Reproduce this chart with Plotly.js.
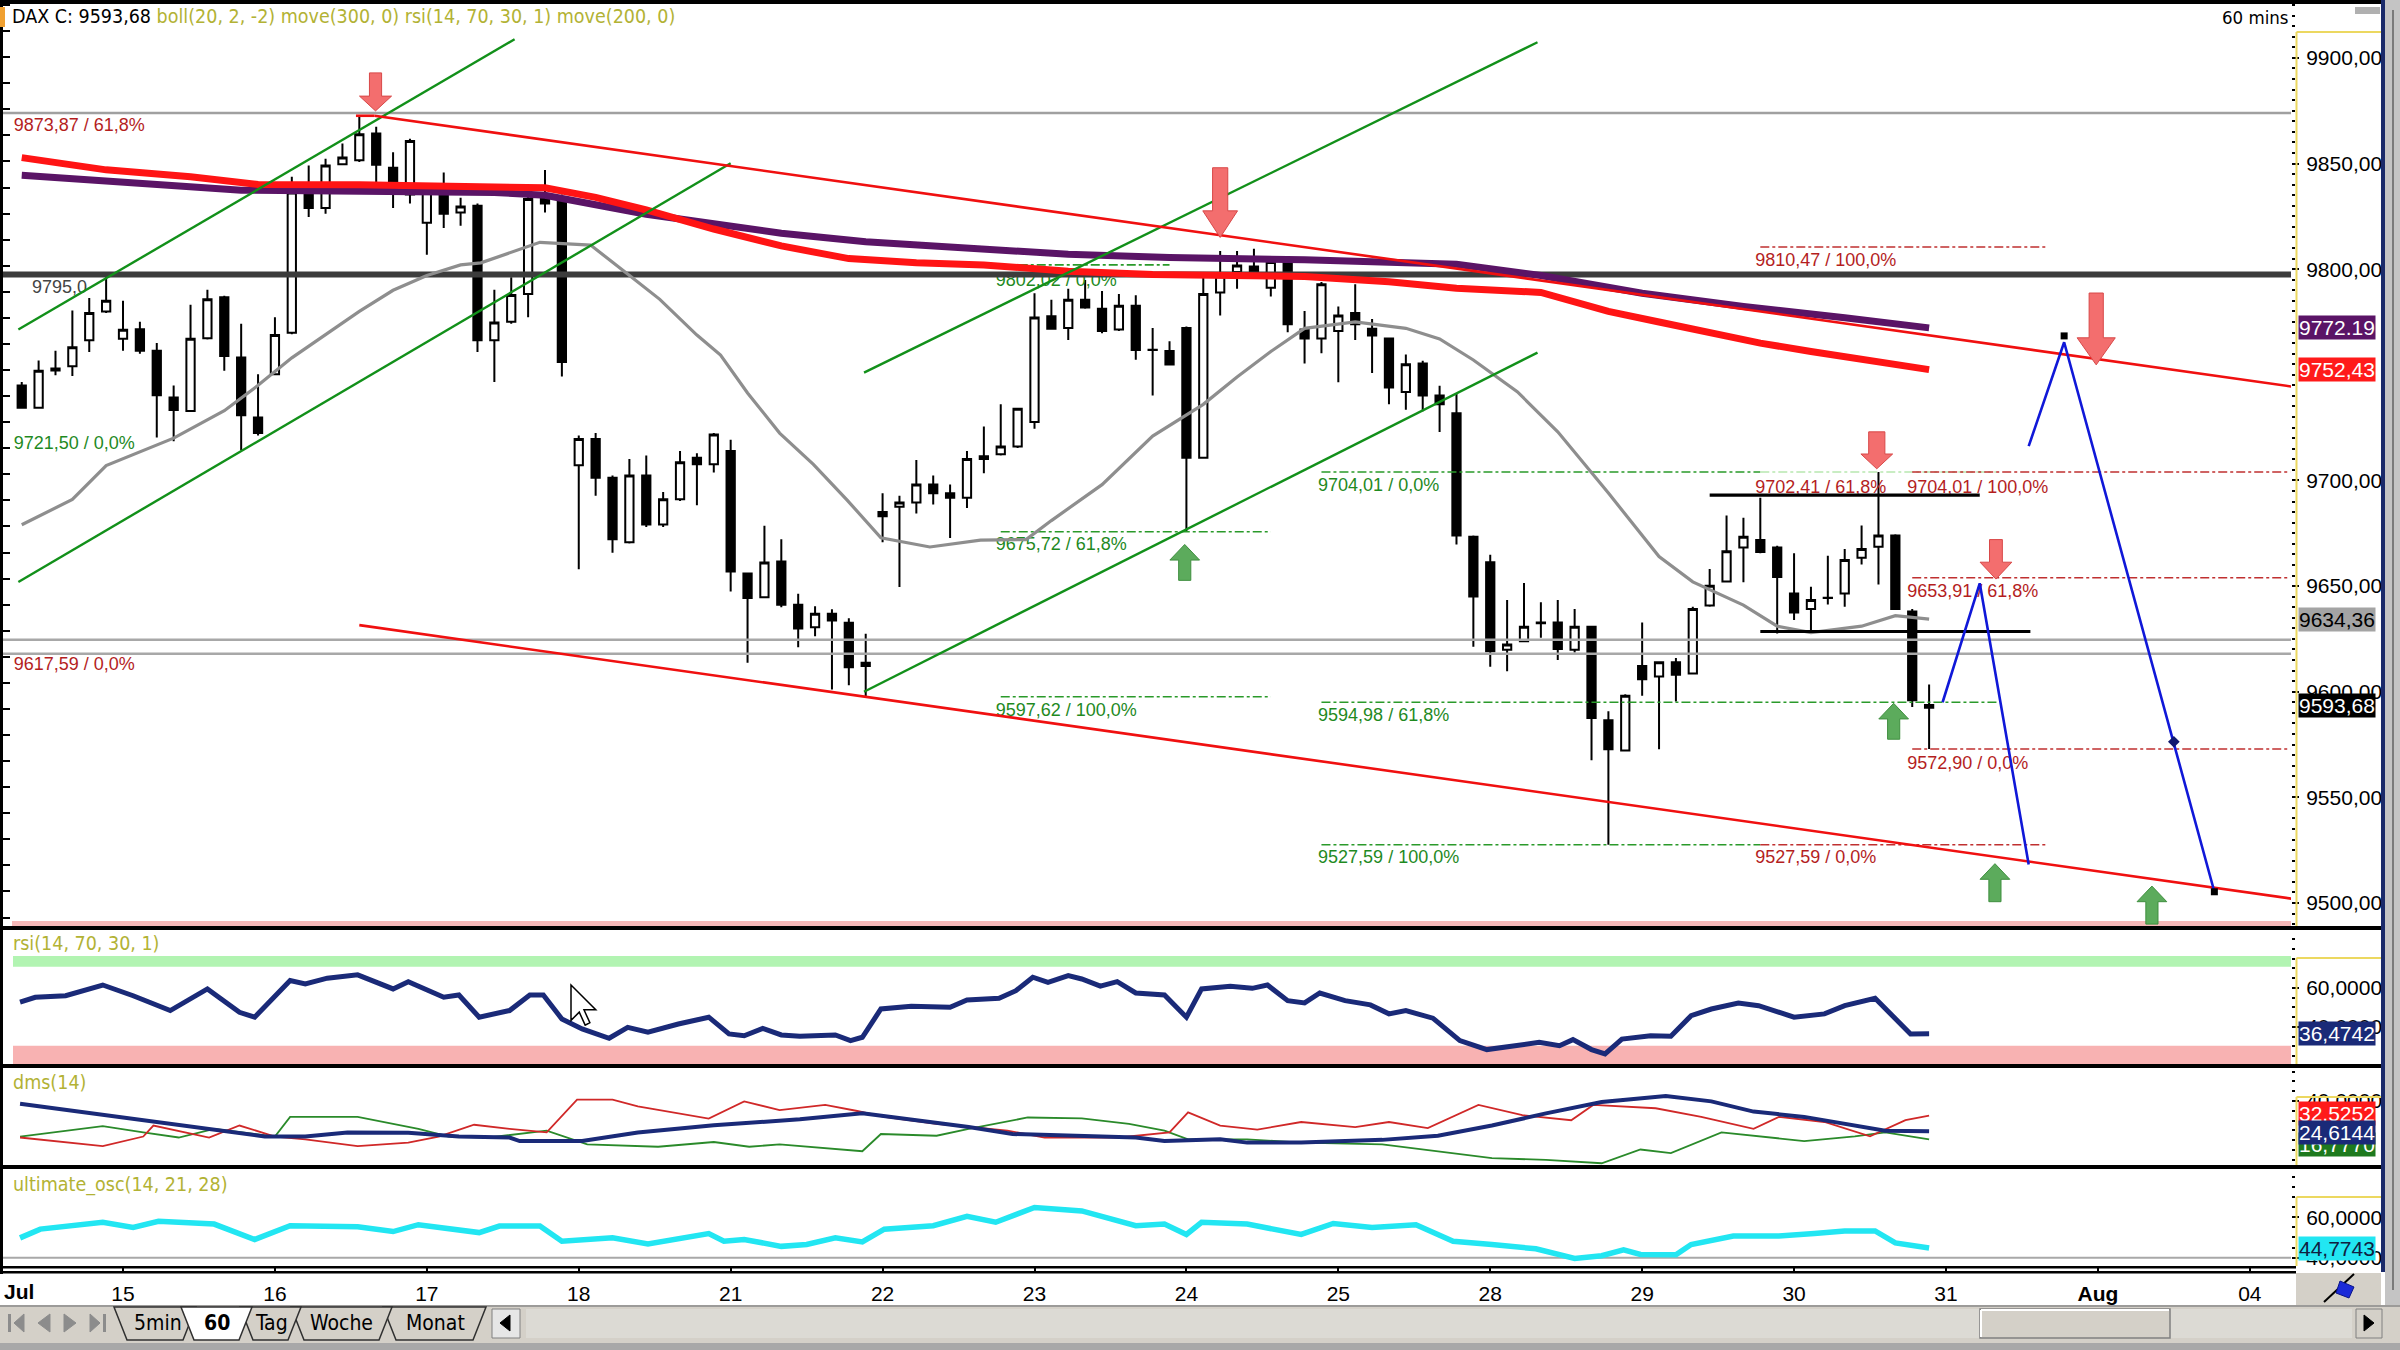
<!DOCTYPE html>
<html><head><meta charset="utf-8">
<script src="https://cdn.plot.ly/plotly-3.0.1.min.js"></script>
<style>html,body{margin:0;padding:0;background:#fff;overflow:hidden}#chart{width:2400px;height:1350px}</style>
</head><body><div id="chart"></div>
<script>
// ---------------- DATA ----------------
const OPEN=[9744.9,9734.4,9752.0,9754.0,9766.3,9780.0,9767.1,9771.5,9761.4,9739.2,9732.9,9767.3,9786.7,9758.2,9729.8,
9750.2,9769.9,9836.8,9828.9,9849.6,9851.5,9864.2,9848.0,9835.3,9822.0,9838.4,9826.8,9830.0,9766.3,9775.1,9788.2,9833.8,9833.8,
9707.2,9719.6,9701.3,9670.7,9702.3,9679.1,9691.1,9710.7,9707.6,9713.9,9655.9,9644.7,9661.6,9641.1,9630.5,9636.9,9632.6,9613.7,
9685.0,9687.5,9689.6,9698.1,9693.9,9691.8,9710.1,9712.4,9716.0,9727.6,9777.7,9772.2,9785.5,9781.3,9771.4,9782.7,9761.7,9761.3,
9772.2,9710.7,9789.0,9798.7,9801.3,9791.2,9803.4,9771.4,9767.2,9770.7,9779.2,9771.8,9767.2,9741.9,9755.4,9740.2,9731.8,9673.3,
9661.3,9619.8,9623.9,9632.8,9632.8,9619.8,9630.7,9586.5,9572.2,9612.2,9607.2,9613.9,9608.6,9640.8,9652.2,9668.2,9671.8,9668.2,
9646.5,9639.2,9644.5,9646.5,9663.4,9668.6,9673.9,9638.0,9592.4];
const HIGH=[9746.6,9756.8,9761.4,9780.4,9786.3,9796.2,9785.0,9775.1,9765.0,9744.9,9783.1,9790.3,9787.4,9774.1,9750.2,
9777.2,9843.7,9849.0,9852.2,9859.5,9872.6,9867.4,9855.3,9861.7,9839.5,9845.8,9833.8,9831.1,9790.3,9796.2,9835.3,9846.9,9835.3,
9721.3,9722.4,9702.3,9710.1,9711.8,9694.5,9713.9,9712.9,9722.4,9719.2,9655.9,9678.5,9672.1,9646.4,9640.5,9639.0,9634.8,9627.4,
9693.9,9692.8,9709.7,9702.3,9698.1,9713.9,9725.5,9736.0,9733.9,9788.6,9785.5,9790.7,9794.9,9789.7,9788.2,9787.6,9772.2,9765.9,
9772.9,9798.1,9808.6,9808.6,9809.7,9805.5,9805.1,9780.2,9793.9,9782.3,9792.8,9776.4,9767.6,9759.6,9756.6,9744.8,9741.0,9673.9,
9664.8,9643.4,9651.4,9642.3,9643.4,9639.2,9630.7,9590.7,9598.8,9632.8,9614.3,9616.0,9640.2,9658.1,9683.4,9682.3,9691.8,9669.1,
9665.5,9649.7,9664.4,9667.6,9678.7,9704.0,9674.5,9639.2,9603.4];
const LOW=[9734.0,9734.0,9749.8,9749.4,9760.8,9779.3,9761.4,9759.9,9720.3,9718.6,9732.5,9766.7,9751.9,9714.3,9721.3,
9749.8,9769.2,9824.7,9826.2,9849.4,9850.7,9836.3,9828.9,9831.1,9806.8,9819.5,9820.5,9760.8,9746.6,9774.1,9777.2,9826.8,9749.2,
9658.0,9692.8,9665.8,9670.2,9678.0,9678.0,9690.3,9688.2,9703.8,9647.4,9613.7,9644.3,9640.0,9621.0,9626.3,9601.0,9603.1,9597.6,
9670.7,9649.6,9684.4,9688.6,9672.8,9686.9,9703.4,9711.8,9715.4,9724.4,9771.4,9766.5,9781.3,9769.7,9770.7,9757.1,9740.2,9754.5,
9675.7,9710.3,9778.1,9790.7,9797.1,9787.0,9770.1,9755.4,9760.2,9746.5,9766.5,9750.8,9736.0,9733.5,9732.8,9722.9,9669.7,9621.3,
9611.8,9609.7,9623.4,9625.5,9615.0,9618.5,9567.6,9527.6,9571.8,9598.1,9572.8,9595.4,9608.2,9640.2,9651.8,9651.8,9665.5,9627.6,
9633.9,9627.6,9641.3,9640.2,9660.2,9650.7,9638.7,9592.8,9572.9];
const CLOSE=[9734.4,9751.9,9753.0,9763.0,9779.3,9785.0,9771.3,9761.4,9740.3,9733.3,9767.1,9785.7,9758.9,9730.8,9722.4,
9768.8,9836.3,9828.9,9849.0,9852.8,9863.8,9849.4,9836.3,9860.6,9838.9,9826.2,9829.6,9766.3,9774.7,9787.8,9833.2,9831.1,9756.1,
9719.6,9701.3,9672.1,9702.3,9679.1,9691.1,9708.6,9707.6,9721.7,9656.9,9644.3,9661.1,9641.1,9629.9,9636.9,9633.7,9611.6,9612.2,
9683.0,9689.6,9698.1,9693.9,9691.8,9710.1,9711.5,9716.0,9733.9,9777.1,9771.8,9785.5,9781.9,9770.7,9782.7,9761.7,9761.9,9754.9,
9710.7,9788.2,9796.6,9801.7,9797.5,9803.4,9773.9,9767.2,9792.8,9778.1,9773.9,9768.6,9744.0,9755.0,9740.2,9736.0,9673.9,9645.1,
9619.2,9622.3,9630.7,9632.4,9620.2,9630.7,9587.6,9572.8,9598.1,9605.9,9613.9,9608.0,9639.2,9650.2,9666.5,9673.3,9666.1,9654.3,
9637.5,9643.4,9644.4,9662.3,9667.6,9673.9,9639.2,9596.0,9593.68];

// day axis (bar index of first hourly bar of each day)
const DAY_START=[6,15,24,33,42,51,60,69,78,87,96,105,114,123,132];
const DAY_TEXT=['15','16','17','18','21','22','23','24','25','28','29','30','31','<b>Aug</b>','04'];
// 9750,00 is hidden behind the 9752,43 value box in the reference
const PRICE_TICKS=[9500,9550,9600,9650,9700,9800,9850,9900];

// Bollinger middle (grey)
const BB_X=[0,3,5,9,12,14,16,18,20,22,24,26,27.2,30.7,33.7,35.8,37.8,40,41.4,43,44.9,46.9,48.9,50.9,53.8,56.8,59.5,61,64,67,70,72,74,76,79,82,84,86,88.6,91,94,97,99,102,104,106,109,111,113];
const BB_Y=[9679,9691,9707,9720,9733,9745,9758,9769,9780,9790,9797,9802,9803,9812.7,9811.4,9798.3,9785.7,9768.8,9759.3,9741.4,9722.4,9707.6,9690.7,9672.8,9668.5,9671.7,9672,9681,9698,9721,9736,9749,9761,9772,9775,9772,9767,9757,9742,9723,9694,9664,9652,9641,9631,9628,9631,9636,9634.36];
// move(200) red and move(300) purple
const MA200_X=[0,5,10,14,20,28,31,34,37,41,45,49,53,57,62,67,72,76,81,85,90,94,97,100,103,106,110,113];
const MA200_Y=[9852.8,9847,9843.7,9840.1,9840,9839,9838.5,9834,9828,9819,9811,9805,9803,9802,9799,9797.5,9797,9796.5,9794,9791,9789,9780,9775,9770,9765,9761,9756,9752.43];
const MA300_X=[0,13,28,31,37,45,50,56,62,68,76,85,90,96,102,108,113];
const MA300_Y=[9844.4,9837.4,9836.3,9835,9826,9817,9813,9810,9807,9805.5,9804.4,9802.3,9797,9788.6,9782.3,9777,9772.19];

// RSI
const RSI_X=[-0.1,0.8,2.6,4.8,6.6,8.8,11,12.9,13.8,15.9,16.8,18.1,19.9,22,22.9,25,25.9,27.1,28.9,30.1,30.9,32,33.2,34.8,35.9,37.1,38.9,40.7,41.9,42.8,43.9,45,46.1,48.2,49.1,49.8,50.9,52.7,55,56,57.9,58.9,59.9,60.8,62,62.8,63.9,64.9,66,67.7,69,69.9,71.6,72.9,73.8,75,76,76.9,78.4,79.9,81,82,83.6,85.2,86.8,88.5,89.9,91.1,91.9,93,93.8,94.8,95.9,96.5,97.7,98.9,100.1,101.7,102.9,105,106.8,108,109.8,111.9,113];
const RSI_Y=[52.7,55.2,56,61.5,56,48.4,59.5,47.5,45,63.8,62,65,66.7,59.5,63.2,55.2,56.4,45,48.4,56.4,56.4,44.1,39,34.2,39.8,37.3,41.5,45,36.4,35.5,39.3,35.9,35.2,35.9,33,34.7,49.2,50.6,50.1,53.8,54.7,58.6,65.5,62.9,66.3,64.6,60.9,63.2,57.4,56.4,45,59.5,60.9,59.8,61.5,53.5,52.3,57.4,53.5,51.3,46.7,48.4,44.5,33,28.4,30.1,32.1,30.4,33.5,28.4,26.2,33.8,34.7,35.5,35.2,45.8,49.2,52.3,50.9,45,46.7,50.9,54.7,36.4,36.4742];

// DMS
const ADX_X=[-0.1,4.8,7.8,10.8,14.4,16.8,19.3,22.9,25.9,28.9,29.5,33.2,36.5,41,44.9,46.1,49.8,52.9,56.1,58.7,62.5,66,67.7,71,72.6,75.8,80.6,83.9,87.1,90.3,93.6,95.9,97.4,100.1,102.6,105.6,108.6,110.4,113];
const ADX_Y=[38.6,32.8,29.6,25.8,21.9,21.9,24,23.8,21.9,21.4,19.6,19.6,24,27.6,30.2,30.7,33.7,30.2,26.7,23.2,22.3,21.4,19.6,20.5,18.8,18.8,20.2,22.3,27.5,33.7,39.5,41.6,42.5,39.8,34.6,31.9,27.5,24.9,24.6144];
const DIP_X=[-0.1,4.8,7.2,7.8,11.1,12.9,15,16.8,19.9,22.9,24.7,26.8,28.9,31.1,32.9,35,36.5,40.7,42.8,44.9,47.6,49.5,51.1,54.2,58.4,60.6,65,68,69.1,71,73.2,75.8,79,81,83.3,86.3,88.9,91.8,93.1,96.8,99.5,102.6,104.1,106.8,109.5,111.6,113];
const DIP_Y=[21.4,17,21.9,27.5,21.4,27.5,21.9,20.5,17,18.8,21.9,27.9,25.8,24,40.7,40.7,37.2,31,39.8,35.4,38,34.9,31.9,28.4,24.9,21.4,21.4,24,34.2,27.5,25.4,29.3,26.7,29.3,26.2,38,32.8,30.2,38,36.3,31.9,25.8,31.9,29.3,22,30.2,32.5252];
const DIM_X=[-0.1,4.8,7.2,9.3,11.4,15,15.9,19.9,23.5,25.3,27.7,31.1,33.5,37.7,41,43.1,44.9,49.8,50.9,54.2,56.1,59.6,62.8,65.6,67.7,69.1,72.6,75.8,80.6,83.9,87.1,90.3,93.6,95.9,97.7,100.7,102.6,105.6,108.6,110.4,113];
const DIM_Y=[21.9,27.2,24,21.4,25.8,21.9,31.9,31.9,25.8,21.9,21.4,24.9,17.9,16.7,19.1,16.7,17.9,14.4,23.2,22.3,25.8,31.6,31.1,28.4,24.9,20.5,20.5,18.8,17.9,14.4,10.9,10,8.3,15.3,13.5,24,22.3,19.6,22,24,20.5];

// Ultimate oscillator
const UO_X=[-0.1,1.1,4.8,6.6,8.1,11.4,13.8,15.9,19.9,22,23.5,27.1,28.3,30.7,32,35,37.1,40.7,41.6,42.8,45,46.5,48.2,49.8,51.1,54,56,57.7,60,62.8,66,67.7,69,69.9,72.6,75.8,77.7,80,82.6,84.8,87.1,89.7,92,93.6,94.9,95.9,98,98.9,101.4,104.1,106.2,108,109.8,111,113];
const UO_Y=[49.8,54.1,57.5,54.9,58,56.6,49,55.8,55.3,52.9,56.3,52.4,55.6,55.6,48.1,49.8,46.8,51.9,48.1,49,45.6,46.5,49.8,47.8,54.1,55.8,60.4,57.5,64.8,63.1,55.8,56.6,51.5,57.5,56.6,51.5,56.9,54.9,56.3,48.1,46.5,44.4,39.6,41,43.9,41.6,41.4,46.5,50.7,50.7,51.9,53.2,53.2,47.3,44.7743];

// horizontal price levels
const LEVEL_Y=[9873.87,9797.5,9624.6,9618.0];
const LEVEL_COLOR=['#a0a0a0','#3c3c3c','#a8a8a8','#a8a8a8'];
const LEVEL_W=[2.5,6,2.5,2.5];

// trend lines [x0,y0,x1,y1]
const RED_TREND=[[19.8,9872.6,20.9,9872.6],[20.9,9872.6,134.5,9744.4],[20,9631.5,134.5,9502]];
const GREEN_TREND=[[-0.2,9771.4,29.2,9908.8],[-0.2,9651.9,42,9850.1],[49.9,9751,89.8,9907.4],[49.9,9600,89.8,9760.5]];
const BLACK_RANGE=[[100,9693,116,9693],[103,9628.5,119,9628.5]];
// projected paths
const PROJ_A_X=[113.8,116,118.9], PROJ_A_Y=[9595,9651.3,9518.2];
const PROJ_B_X=[118.9,121,129.9], PROJ_B_Y=[9716.2,9765.4,9505.3];

// fibonacci dash-dot lines [x0,x1,y,color]
const FIB=[[58,68,9802.0,'g'],[58,74,9675.72,'g'],[58,74,9597.62,'g'],[77,103,9704.01,'g'],[103,117,9704.01,'lg'],[77,117,9594.98,'g'],[77,103,9527.59,'g'],
[103,120,9810.47,'r'],[112,134.4,9704.01,'r'],[112,134.4,9653.91,'r'],[112,134.4,9572.90,'r'],[103,120,9527.59,'r']];

// fib text labels
const LBL_TEXT=['9873,87 / 61,8%','9795,0','9721,50 / 0,0%','9617,59 / 0,0%','9802,02 / 0,0%','9675,72 / 61,8%','9597,62 / 100,0%','9704,01 / 0,0%','9594,98 / 61,8%','9527,59 / 100,0%','9810,47 / 100,0%','9702,41 / 61,8%','9704,01 / 100,0%','9653,91 / 61,8%','9572,90 / 0,0%','9527,59 / 0,0%'];
const LBL_X=[-0.48,0.61,-0.48,-0.48,57.7,57.7,57.7,76.8,76.8,76.8,102.7,102.7,111.7,111.7,111.7,102.7];
const LBL_Y=[9867.6,9790.9,9717.1,9612.2,9794,9669.1,9590.7,9697.1,9588.2,9520.9,9803.4,9696,9696,9646.9,9565.4,9520.9];
const LBL_C=['r','k','g','r','g','g','g','g','g','g','r','r','r','r','r','r'];

// signal arrows
const DOWN_X=[20.96,71,109.9,116.96,122.9];
const DOWN_TIP=[9874.9,9815,9705.5,9653.3,9754.7];
const DOWN_LEN=[18,33,17.5,18.7,34];
const DOWN_HEAD=[7,12.6,7,8,12.8];
const DOWN_HW=[0.95,1.03,0.94,0.94,1.13];
const DOWN_SW=[0.36,0.45,0.48,0.38,0.42];
const UP_X=[68.9,110.9,116.9,126.2];
const UP_TIP=[9669.7,9594.5,9518.6,9508];
const UP_LEN=[17,17,18,18];

// right-axis value boxes
const VBOX_TEXT=['9772.19','9752,43','9634,36','9593,68'];
const VBOX_Y=[9772.19,9752.43,9634.36,9593.68];
const VBOX_BG=['#5a1466','#ff1a1a','#a4a4a4','#000000'];
const VBOX_FG=['#ffffff','#ffffff','#000000','#ffffff'];

// ---------------- BUILD ----------------
const W=2400,H=1350;
const FONT='Liberation Sans, Arial, sans-serif';
const NARROW='Liberation Sans Narrow, DejaVu Sans Condensed, Arial Narrow, sans-serif';
const OLIVE='#b2b234';
const GREENC='#1f8a1f', REDC='#b41e1e';
const px=x=>x/W, py=y=>1-y/H;
const P=(x,y)=>px(x).toFixed(6)+','+py(y).toFixed(6);
const IDX=OPEN.map((_,i)=>i);

const traces=[];
// fib texts first: in the reference the lines and candles are drawn over them
const ctext={r:REDC,g:GREENC,k:'#444444'};
traces.push({type:'scatter',mode:'text',x:LBL_X,y:LBL_Y,text:LBL_TEXT,textposition:'middle right',xaxis:'x',yaxis:'y',
  textfont:{family:FONT,size:18,color:LBL_C.map(c=>ctext[c])},hoverinfo:'skip',showlegend:false,cliponaxis:false});
traces.push({type:'candlestick',x:IDX,open:OPEN,high:HIGH,low:LOW,close:CLOSE,xaxis:'x',yaxis:'y',
  increasing:{line:{color:'#000',width:2},fillcolor:'#ffffff'},
  decreasing:{line:{color:'#000',width:2},fillcolor:'#000000'},
  whiskerwidth:0,hoverinfo:'skip',showlegend:false});
function line(x,y,color,width,yaxis,dash){traces.push({type:'scatter',mode:'lines',x:x,y:y,xaxis:'x',yaxis:yaxis||'y',
  line:{color:color,width:width,dash:dash||'solid'},hoverinfo:'skip',showlegend:false,cliponaxis:true});}
LEVEL_Y.forEach((v,k)=>line([-1.2,134.5],[v,v],LEVEL_COLOR[k],LEVEL_W[k]));
FIB.forEach(f=>line([f[0],f[1]],[f[2],f[2]],f[3]==='g'?'#2a9a2a':(f[3]==='lg'?'#b8e8b0':'#c03030'),1.6,'y','dashdot'));
line(BB_X,BB_Y,'#8e8e8e',3.2);
line(MA300_X,MA300_Y,'#5a1466',7);
line(MA200_X,MA200_Y,'#ff1414',7);
GREEN_TREND.forEach(s=>line([s[0],s[2]],[s[1],s[3]],'#12901a',2.4));
RED_TREND.forEach(s=>line([s[0],s[2]],[s[1],s[3]],'#f01010',2.6));
BLACK_RANGE.forEach(s=>line([s[0],s[2]],[s[1],s[3]],'#000',3.2));
line(PROJ_A_X,PROJ_A_Y,'#1018d8',2.6);
line(PROJ_B_X,PROJ_B_Y,'#1018d8',2.6);
traces.push({type:'scatter',mode:'markers',x:[PROJ_B_X[1],PROJ_B_X[2]],y:[PROJ_B_Y[1]+3,PROJ_B_Y[2]],xaxis:'x',yaxis:'y',
  marker:{symbol:'square',size:7,color:'#000'},hoverinfo:'skip',showlegend:false});
traces.push({type:'scatter',mode:'markers',x:[127.5],y:[9576.3],xaxis:'x',yaxis:'y',
  marker:{symbol:'diamond',size:9,color:'#101870'},hoverinfo:'skip',showlegend:false});
// sub panels
line(RSI_X,RSI_Y,'#1a2a78',5,'y2');
line(DIM_X,DIM_Y,'#2a8a2a',1.8,'y3');
line(DIP_X,DIP_Y,'#d02828',1.8,'y3');
line(ADX_X,ADX_Y,'#1a2a78',4,'y3');
line([-1.2,134.5],[40,40],'#a8a8a8',2,'y4');
line(UO_X,UO_Y,'#22e6f2',5.5,'y4');

// ---------- shapes ----------
const shapes=[];
function rect(x0,y0,x1,y1,fill,layer,lc,lw){shapes.push({type:'rect',xref:'paper',yref:'paper',x0:px(x0),x1:px(x1),y0:py(y1),y1:py(y0),
  fillcolor:fill,line:{color:lc||fill,width:lw||0},layer:layer||'above'});}
function pathPx(pts,fill,lc,lw,layer){let d='M'+pts.map(p=>P(p[0],p[1])).join(' L')+' Z';
  shapes.push({type:'path',xref:'paper',yref:'paper',path:d,fillcolor:fill,line:{color:lc||fill,width:lw===undefined?1:lw},layer:layer||'above'});}
function segPx(x0,y0,x1,y1,color,w){shapes.push({type:'line',xref:'paper',yref:'paper',x0:px(x0),y0:py(y0),x1:px(x1),y1:py(y1),line:{color:color,width:w},layer:'above'});}

// RSI bands
shapes.push({type:'rect',xref:'paper',yref:'y2',x0:px(13),x1:px(2291),y0:70.8,y1:76.4,fillcolor:'#b2f4b2',line:{width:0},layer:'below'});
shapes.push({type:'rect',xref:'paper',yref:'y2',x0:px(13),x1:px(2291),y0:21,y1:30.3,fillcolor:'#f8b2b2',line:{width:0},layer:'below'});
// pink bottom line of main panel
rect(12,921,2291,926,'#f6b8b8','below');

// arrows in data coordinates
DOWN_X.forEach((c,k)=>{const t=DOWN_TIP[k],h=DOWN_LEN[k],hh=DOWN_HEAD[k],hw=DOWN_HW[k],sw=DOWN_SW[k];
  const d=`M${c-sw},${t+h} L${c+sw},${t+h} L${c+sw},${t+hh} L${c+hw},${t+hh} L${c},${t} L${c-hw},${t+hh} L${c-sw},${t+hh} Z`;
  shapes.push({type:'path',xref:'x',yref:'y',path:d,fillcolor:'#f36e6e',line:{color:'#d84848',width:1},layer:'above'});});
UP_X.forEach((c,k)=>{const t=UP_TIP[k],h=UP_LEN[k],hh=7.4,hw=0.88,sw=0.36;
  const d=`M${c-sw},${t-h} L${c+sw},${t-h} L${c+sw},${t-hh} L${c+hw},${t-hh} L${c},${t} L${c-hw},${t-hh} L${c-sw},${t-hh} Z`;
  shapes.push({type:'path',xref:'x',yref:'y',path:d,fillcolor:'#5cab5c',line:{color:'#3f8f3f',width:1},layer:'above'});});

// chrome: borders & separators
rect(0,0,2400,4,'#000');
rect(0,0,3,1274,'#000');
rect(0,926,2386,930,'#000');
rect(0,1064,2386,1068,'#000');
rect(0,1165,2386,1169,'#000');
rect(0,1266,2296,1268.5,'#000');
rect(0,1271,2296,1273.5,'#000');
rect(0,7,5,27,'#f0a030');
// right axis yellow borders
[[32,926],[958,1064],[1097,1165],[1197,1266]].forEach(s=>{segPx(2296.5,s[0],2296.5,s[1],'#ecd860',2);segPx(2296.5,s[0],2381,s[0],'#ecd860',2);});
// navy vertical + right strip
rect(2381,0,2385,1272,'#1a2a6a');
rect(2385,0,2400,1305,'#c4c4c4');
segPx(2393,10,2393,1290,'#7a7a7a',2);
rect(2355,7,2380,14,'#b0b0b0');
// x axis strip right part
rect(2296,1273,2381,1305,'#d4d0c8');
// icon
segPx(2324,1302,2354,1274,'#000',2);
pathPx([[2340,1281],[2354,1287],[2349,1298],[2336,1293]],'#1a2ad8','#0a1488',1);
// bottom bar
rect(0,1305,2400,1350,'#d4d0c8');
rect(0,1343,2400,1350,'#a8a8a8');
segPx(0,1306,2400,1306,'#8a8a8a',1.5);
// nav buttons
pathPx([[14,1323],[24,1314],[24,1332]],'#8c8c8c');rect(8,1314,11,1332,'#8c8c8c');
pathPx([[38,1323],[50,1314],[50,1332]],'#8c8c8c');
pathPx([[76,1323],[64,1314],[64,1332]],'#8c8c8c');
pathPx([[100,1323],[90,1314],[90,1332]],'#8c8c8c');rect(103,1314,106,1332,'#8c8c8c');
// tabs
const TAB_TEXT=['5min','60','Tag','Woche','Monat'];
const TAB_L=[114,181,240,291,383], TAB_R=[196,252,301,392,486];
const TAB_ORDER=[4,3,2,0,1];
TAB_ORDER.forEach(k=>{const sel=k===1;
  pathPx([[TAB_L[k],1307],[TAB_R[k],1307],[TAB_R[k]-13,1340],[TAB_L[k]+13,1340]],sel?'#ffffff':'#d4d0c8','#303030',1.5);});
rect(492,1309,520,1338,'#e6e6e6','above','#808080',1);
pathPx([[500,1323],[510,1315],[510,1331]],'#000');
rect(526,1309,2352,1338,'#dcdad4');
rect(1980,1309,2170,1338,'#d4d0c8','above','#808080',1.5);
segPx(1981,1310,2169,1310,'#ffffff',2);segPx(1981,1310,1981,1337,'#ffffff',2);
rect(2356,1309,2382,1338,'#d4d0c8','above','#808080',1);
pathPx([[2374,1323],[2364,1315],[2364,1331]],'#000');
// mouse cursor
(function(){const tx=571,ty=985,s=1.18;const pts=[[0,0],[0,30],[7,23],[12,34],[16,32],[11,21],[21,21]].map(p=>[tx+p[0]*s,ty+p[1]*s]);
  pathPx(pts,'#ffffff','#000',1.5);})();

// ---------- annotations ----------
const ann=[];
VBOX_TEXT.forEach((t,k)=>ann.push({xref:'paper',yref:'y',x:px(2298),y:VBOX_Y[k],text:t,showarrow:false,xanchor:'left',yanchor:'middle',
  bgcolor:VBOX_BG[k],borderpad:0,font:{family:FONT,size:21,color:VBOX_FG[k]}}));
ann.push({xref:'paper',yref:'y2',x:px(2298),y:36.4742,text:'36,4742',showarrow:false,xanchor:'left',yanchor:'middle',bgcolor:'#1a2a78',borderpad:0,font:{family:FONT,size:21,color:'#fff'}});
ann.push({xref:'paper',yref:'y3',x:px(2298),y:17.6,text:'16,7770',showarrow:false,xanchor:'left',yanchor:'middle',bgcolor:'#1e7a1e',borderpad:0,font:{family:FONT,size:21,color:'#fff'}});
ann.push({xref:'paper',yref:'y3',x:px(2298),y:33.4,text:'32,5252',showarrow:false,xanchor:'left',yanchor:'middle',bgcolor:'#ff1a1a',borderpad:0,font:{family:FONT,size:21,color:'#fff'}});
ann.push({xref:'paper',yref:'y3',x:px(2298),y:24.0,text:'24,6144',showarrow:false,xanchor:'left',yanchor:'middle',bgcolor:'#1a2a78',borderpad:0,font:{family:FONT,size:21,color:'#fff'}});
ann.push({xref:'paper',yref:'y4',x:px(2298),y:44.7743,text:'44,7743',showarrow:false,xanchor:'left',yanchor:'middle',bgcolor:'#22e6f2',borderpad:0,font:{family:FONT,size:21,color:'#102040'}});
// header
ann.push({xref:'paper',yref:'paper',x:px(10),y:py(16),xanchor:'left',yanchor:'middle',showarrow:false,
  text:'DAX C: 9593,68 <span style="color:'+OLIVE+'">boll(20, 2, -2) move(300, 0) rsi(14, 70, 30, 1) move(200, 0)</span>',
  font:{family:NARROW,size:19.5,color:'#000'}});
ann.push({xref:'paper',yref:'paper',x:px(2291),y:py(17),xanchor:'right',yanchor:'middle',showarrow:false,text:'60 mins',font:{family:NARROW,size:18.5,color:'#000'}});
ann.push({xref:'paper',yref:'paper',x:px(11),y:py(943),xanchor:'left',yanchor:'middle',showarrow:false,text:'rsi(14, 70, 30, 1)',font:{family:NARROW,size:19.5,color:OLIVE}});
ann.push({xref:'paper',yref:'paper',x:px(11),y:py(1082),xanchor:'left',yanchor:'middle',showarrow:false,text:'dms(14)',font:{family:NARROW,size:19.5,color:OLIVE}});
ann.push({xref:'paper',yref:'paper',x:px(11),y:py(1184),xanchor:'left',yanchor:'middle',showarrow:false,text:'ultimate_osc(14, 21, 28)',font:{family:NARROW,size:19.5,color:OLIVE}});
ann.push({xref:'paper',yref:'paper',x:px(2),y:py(1291),xanchor:'left',yanchor:'middle',showarrow:false,text:'<b>Jul</b>',font:{family:FONT,size:21,color:'#000'}});
// tab labels
const TAB_CX=[158,217,271,342,435];
TAB_TEXT.forEach((t,k)=>ann.push({xref:'paper',yref:'paper',x:px(TAB_CX[k]),y:py(1323),xanchor:'center',yanchor:'middle',showarrow:false,
  text:k===1?'<b>'+t+'</b>':t,font:{family:NARROW,size:21,color:'#000'}}));

const tickFont={family:FONT,size:21,color:'#000'};
const yCommon={side:'right',anchor:'x',showgrid:false,zeroline:false,showline:false,ticks:'outside',ticklen:7,tickwidth:2,tickcolor:'#000',
  tickfont:tickFont,fixedrange:true,ticklabelstandoff:3};
const layout={width:W,height:H,margin:{l:0,r:0,t:0,b:0,pad:0},paper_bgcolor:'#ffffff',plot_bgcolor:'#ffffff',showlegend:false,
  separators:',.',hovermode:false,dragmode:false,
  xaxis:{domain:[px(3),px(2291)],range:[-1.11,134.44],anchor:'y4',tickmode:'array',tickvals:DAY_START,ticktext:DAY_TEXT,
    ticks:'outside',ticklen:5,tickwidth:2,tickcolor:'#000',showgrid:false,zeroline:false,showline:false,tickfont:tickFont,
    rangeslider:{visible:false},fixedrange:true,ticklabelstandoff:4},
  yaxis:Object.assign({},yCommon,{domain:[py(926),py(4)],range:[9489.1,9925.5],tickmode:'array',tickvals:PRICE_TICKS,tickformat:'.2f',
    minor:{dtick:5,tick0:9500,ticks:'outside',ticklen:3,tickwidth:2,tickcolor:'#000'}}),
  yaxis5:{overlaying:'y',side:'left',anchor:'x',range:[9489.1,9925.5],tick0:9888,dtick:12.34,ticks:'inside',ticklen:7,tickwidth:2,tickcolor:'#000',
    showticklabels:false,showgrid:false,zeroline:false,showline:false,fixedrange:true},
  yaxis2:Object.assign({},yCommon,{domain:[py(1064),py(930)],range:[21.0,89.7],tickmode:'array',tickvals:[40,60],tickformat:'.4f',
    minor:{dtick:5,tick0:0,ticks:'outside',ticklen:3,tickwidth:2,tickcolor:'#000'}}),
  yaxis3:Object.assign({},yCommon,{domain:[py(1165),py(1068)],range:[7.4,56.8],tickmode:'array',tickvals:[40],tickformat:'.4f',
    minor:{dtick:5,tick0:0,ticks:'outside',ticklen:3,tickwidth:2,tickcolor:'#000'}}),
  yaxis4:Object.assign({},yCommon,{domain:[py(1266),py(1169)],range:[35.9,83.8],tickmode:'array',tickvals:[40,60],tickformat:'.4f',
    minor:{dtick:5,tick0:0,ticks:'outside',ticklen:3,tickwidth:2,tickcolor:'#000'}}),
  shapes:shapes,annotations:ann};
// dummy trace to activate left tick axis
traces.push({type:'scatter',mode:'lines',x:[0],y:[9700],xaxis:'x',yaxis:'y5',line:{width:0},hoverinfo:'skip',showlegend:false});
Plotly.newPlot('chart',traces,layout,{staticPlot:true,displayModeBar:false});
</script></body></html>
